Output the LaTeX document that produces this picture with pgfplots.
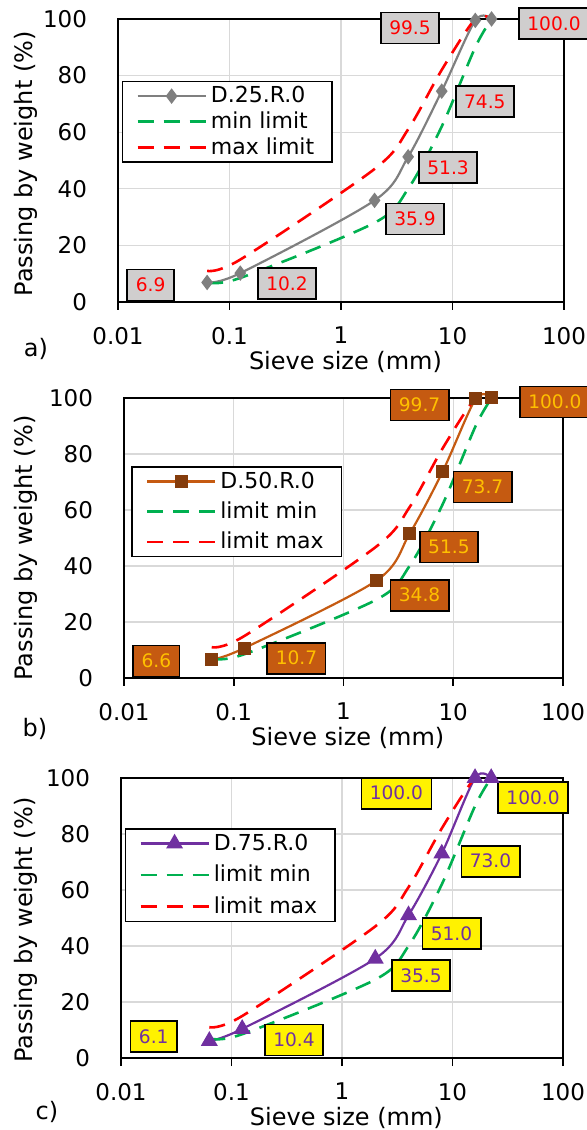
\documentclass[border=0pt]{standalone}
\usepackage{pgfplots}
\usepackage{pgfplotstable}
\pgfplotsset{compat=1.18}
\usepackage{fontspec}
\setmainfont{DejaVu Sans}
\definecolor{grayline}{HTML}{7F7F7F}
\definecolor{gridgray}{HTML}{D9D9D9}
\definecolor{mingreen}{HTML}{00B050}
\definecolor{maxred}{HTML}{FF0000}
\definecolor{brownline}{HTML}{C55A11}
\definecolor{brownmark}{HTML}{843C0C}
\definecolor{goldtxt}{HTML}{FFC000}
\definecolor{purp}{HTML}{7030A0}
\definecolor{boxgray}{HTML}{D0CECE}

\pgfplotstableread{
x y
0.063 7
0.125 8.5
2 28
4 40
8 62
16 90
22.4 100
}\minlim
\pgfplotstableread{
x y
0.063 11
0.125 15
2 47
4 61
8 82
16 100
22.4 100
}\maxlim
\pgfplotstableread{
x a b c
0.063 6.9 6.6 6.1
0.125 10.2 10.7 10.4
2 35.9 34.8 35.5
4 51.3 51.5 51.0
8 74.5 73.7 73.0
16 99.5 99.7 100.0
22.4 100.0 100.0 100.0
}\grading

\tikzset{
  lbl/.style={draw=black, line width=0.9pt, font=\fontsize{9.3}{11}\selectfont,
    inner xsep=4.2pt, inner ysep=0pt, minimum height=15.5pt},
  minl/.style={mingreen, line width=1.3pt, dash pattern=on 8pt off 5pt, smooth},
  maxl/.style={maxred, line width=1.3pt, dash pattern=on 8pt off 5pt, smooth},
}
\pgfplotsset{legend image code/.code={\draw[mark repeat=2,mark phase=2,#1] plot coordinates {(0pt,0pt)(17pt,0pt)(34pt,0pt)};}}

\begin{document}
\begin{tikzpicture}
\useasboundingbox (0,0) rectangle (293.5pt,565pt);

% ---------------- panel a ----------------
\begin{semilogxaxis}[at={(59pt,414pt)}, anchor=south west,
  scale only axis, width=223pt, height=141.5pt,
  xmin=0.01, xmax=100, ymin=0, ymax=100,
  xtick={0.01,0.1,1,10,100}, xticklabels={0.01,0.1,1,10,100},
  ytick={0,20,40,60,80,100}, yticklabels={0,20,40,60,80,100},
  minor tick style={draw=none},
  grid=major, major grid style={gridgray, line width=0.6pt},
  axis line style={black, line width=0.9pt},
  tick align=outside, xtick pos=bottom, ytick pos=left,
  major tick length=4pt, ytick style={draw=none}, xtick style={black, line width=0.9pt},
  tick label style={font=\fontsize{11.5}{13}\selectfont},
  xticklabel style={yshift=-5pt}, yticklabel style={xshift=-8pt},
  label style={font=\fontsize{12}{14}\selectfont},
  ylabel={Passing by weight (\%)}, xlabel={Sieve size (mm)},
  xlabel style={at={(axis description cs:0.51,0)}, anchor=center, yshift=-30pt},
  ylabel style={at={(axis description cs:-0.206,0.488)}, anchor=center},
  clip=false, legend cell align=left,
  legend style={draw=black, line width=0.75pt, fill=white,
    font=\fontsize{11}{13}\selectfont, anchor=north west, at={(0.008,0.782)},
    inner xsep=7pt, inner ysep=1pt, row sep=0pt, nodes={inner xsep=2pt, inner ysep=1.5pt}}]
\addplot[grayline, line width=1.1pt, smooth, mark=diamond*, mark size=3pt,
  mark options={solid, fill=grayline, draw=grayline}] table[x=x, y=a] {\grading};
\addlegendentry{D.25.R.0}
\addplot[minl] table {\minlim};
\addlegendentry{min limit}
\addplot[maxl] table {\maxlim};
\addlegendentry{max limit}
\node[lbl, fill=boxgray, text=maxred] at (axis cs:0.0196,6.0) {6.9};
\node[lbl, fill=boxgray, text=maxred] at (axis cs:0.328,6.4) {10.2};
\node[lbl, fill=boxgray, text=maxred] at (axis cs:4.61,29.3) {35.9};
\node[lbl, fill=boxgray, text=maxred] at (axis cs:9.12,47.5) {51.3};
\node[lbl, fill=boxgray, text=maxred] at (axis cs:19.5,70.8) {74.5};
\node[lbl, fill=boxgray, text=maxred] at (axis cs:4.16,96.8) {99.5};
\node[lbl, fill=boxgray, text=maxred] at (axis cs:81.3,98.4) {100.0};
\end{semilogxaxis}

% ---------------- panel b ----------------
\begin{semilogxaxis}[at={(62pt,226pt)}, anchor=south west,
  scale only axis, width=219.5pt, height=140pt,
  xmin=0.01, xmax=100, ymin=0, ymax=100,
  xtick={0.01,0.1,1,10,100}, xticklabels={0.01,0.1,1,10,100},
  ytick={0,20,40,60,80,100}, yticklabels={0,20,40,60,80,100},
  minor tick style={draw=none},
  grid=major, major grid style={gridgray, line width=0.6pt},
  axis line style={black, line width=0.9pt},
  tick align=outside, xtick pos=bottom, ytick pos=left,
  major tick length=4pt, ytick style={draw=none}, xtick style={black, line width=0.9pt},
  tick label style={font=\fontsize{11.5}{13}\selectfont},
  xticklabel style={yshift=-5pt}, yticklabel style={xshift=-8pt},
  label style={font=\fontsize{12}{14}\selectfont},
  ylabel={Passing by weight (\%)}, xlabel={Sieve size (mm)},
  xlabel style={at={(axis description cs:0.51,0)}, anchor=center, yshift=-30pt},
  ylabel style={at={(axis description cs:-0.223,0.464)}, anchor=center},
  clip=false, legend cell align=left,
  legend style={draw=black, line width=0.75pt, fill=white,
    font=\fontsize{11}{13}\selectfont, anchor=north west, at={(0.016,0.757)},
    inner xsep=7pt, inner ysep=1pt, row sep=2.3pt, nodes={inner xsep=2pt, inner ysep=1.5pt}}]
\addplot[brownline, line width=1.1pt, smooth, mark=square*, mark size=2.7pt,
  mark options={solid, fill=brownmark, draw=brownmark}] table[x=x, y=b] {\grading};
\addlegendentry{D.50.R.0}
\addplot[minl] table {\minlim};
\addlegendentry{limit min}
\addplot[maxl] table {\maxlim};
\addlegendentry{limit max}
\node[lbl, fill=brownline, text=goldtxt] at (axis cs:0.0197,6.1) {6.6};
\node[lbl, fill=brownline, text=goldtxt] at (axis cs:0.373,7.1) {10.7};
\node[lbl, fill=brownline, text=goldtxt] at (axis cs:4.94,29.6) {34.8};
\node[lbl, fill=brownline, text=goldtxt] at (axis cs:9.14,46.8) {51.5};
\node[lbl, fill=brownline, text=goldtxt] at (axis cs:18.5,68.2) {73.7};
\node[lbl, fill=brownline, text=goldtxt] at (axis cs:4.94,97.5) {99.7};
\node[lbl, fill=brownline, text=goldtxt] at (axis cs:84.5,98.6) {100.0};
\end{semilogxaxis}

% ---------------- panel c ----------------
\begin{semilogxaxis}[at={(60.5pt,36pt)}, anchor=south west,
  scale only axis, width=221pt, height=140pt,
  xmin=0.01, xmax=100, ymin=0, ymax=100,
  xtick={0.01,0.1,1,10,100}, xticklabels={0.01,0.1,1,10,100},
  ytick={0,20,40,60,80,100}, yticklabels={0,20,40,60,80,100},
  minor tick style={draw=none},
  grid=major, major grid style={gridgray, line width=0.6pt},
  axis line style={black, line width=0.9pt},
  tick align=outside, xtick pos=bottom, ytick pos=left,
  major tick length=4pt, ytick style={draw=none}, xtick style={black, line width=0.9pt},
  tick label style={font=\fontsize{11.5}{13}\selectfont},
  xticklabel style={yshift=-5pt}, yticklabel style={xshift=-8pt},
  label style={font=\fontsize{12}{14}\selectfont},
  ylabel={Passing by weight (\%)}, xlabel={Sieve size (mm)},
  xlabel style={at={(axis description cs:0.51,0)}, anchor=center, yshift=-30pt},
  ylabel style={at={(axis description cs:-0.215,0.457)}, anchor=center},
  clip=false, legend cell align=left,
  legend style={draw=black, line width=0.75pt, fill=white,
    font=\fontsize{11}{13}\selectfont, anchor=north west, at={(0.008,0.821)},
    inner xsep=7pt, inner ysep=1pt, row sep=3pt, nodes={inner xsep=2pt, inner ysep=1.5pt}}]
\addplot[purp, line width=1.1pt, smooth, mark=triangle*, mark size=3.8pt,
  mark options={solid, fill=purp, draw=purp}] table[x=x, y=c] {\grading};
\addlegendentry{D.75.R.0}
\addplot[minl] table {\minlim};
\addlegendentry{limit min}
\addplot[maxl] table {\maxlim};
\addlegendentry{limit max}
\node[lbl, fill=yellow, text=purp] at (axis cs:0.0198,7.6) {6.1};
\node[lbl, fill=yellow, text=purp] at (axis cs:0.368,6.4) {10.4};
\node[lbl, fill=yellow, text=purp] at (axis cs:5.19,29.5) {35.5};
\node[lbl, fill=yellow, text=purp] at (axis cs:9.8,44.5) {51.0};
\node[lbl, fill=yellow, text=purp] at (axis cs:22.1,70.3) {73.0};
\node[lbl, fill=yellow, text=purp] at (axis cs:3.11,94.6) {100.0};
\node[lbl, fill=yellow, text=purp] at (axis cs:53.6,92.9) {100.0};
\end{semilogxaxis}

\node[font=\fontsize{12}{14}\selectfont] at (18pt,390.5pt) {a)};
\node[font=\fontsize{12}{14}\selectfont] at (17.5pt,200.5pt) {b)};
\node[font=\fontsize{12}{14}\selectfont] at (23.5pt,9pt) {c)};
\end{tikzpicture}
\end{document}
